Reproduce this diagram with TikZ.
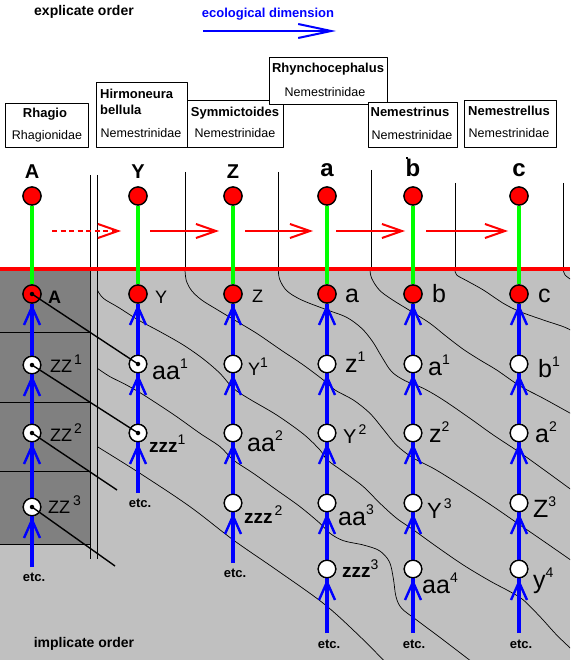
\documentclass[tikz,border=0pt]{standalone}
\usepackage{fontspec}
\setmainfont{Liberation Sans}
\usetikzlibrary{arrows.meta}
\definecolor{lgray}{HTML}{C0C0C0}
\definecolor{dgray}{HTML}{808080}
\definecolor{pred}{HTML}{FF0000}
\definecolor{pgreen}{HTML}{00FF00}
\definecolor{pblue}{HTML}{0000FF}
\newcommand\fsz[1]{\fontsize{#1}{#1}\selectfont}
\newcommand\up[1]{\raisebox{0.42em}{\mdseries\fsz{14}#1}}
\newcommand\barb[1]{\draw[barbst] ([shift={(-8pt,-31pt)}]#1.center) -- ([shift={(0pt,-13pt)}]#1.center) -- ([shift={(8pt,-31pt)}]#1.center);}
\begin{document}
\begin{tikzpicture}[x=1pt,y=-1pt,line join=round,
 redc/.style={circle,draw=black,line width=1.3pt,fill=pred,minimum size=18pt,inner sep=0pt},
 whc/.style={circle,draw=black,line width=1.3pt,fill=white,minimum size=17.5pt,inner sep=0pt},
 dotc/.style={circle,fill=black,minimum size=4.5pt,inner sep=0pt},
 gl/.style={pgreen,line width=3.3pt},
 bl/.style={pblue,line width=3.3pt},
 barbst/.style={pblue,line width=2.4pt},
 cont/.style={black,line width=0.7pt},
 conn/.style={black,line width=1.4pt},
 vl/.style={black,line width=0.8pt},
 rarr/.style={pred,line width=2pt,-{Straight Barb[length=20pt,width=14pt]}},
 toplab/.style={font=\bfseries\fsz{20},inner sep=0pt,anchor=base},
 toplow/.style={font=\bfseries\fsz{24},inner sep=0pt,anchor=base},
 cl/.style={font=\fsz{18},inner sep=0pt,anchor=base west},
 ll/.style={font=\fsz{25},inner sep=0pt,anchor=base west},
 zl/.style={font=\bfseries\fsz{19},inner sep=0pt,anchor=base west},
 etcl/.style={font=\bfseries\fsz{13},inner sep=0pt,anchor=base},
 box/.style={draw=black,line width=0.8pt,fill=white,inner sep=0pt},
 nm/.style={font=\bfseries\fsz{13},inner sep=0pt,anchor=base},
 fam/.style={font=\fsz{12.5},inner sep=0pt,anchor=base},
 ttl/.style={font=\bfseries\fsz{14},inner sep=0pt,anchor=base}
]
\useasboundingbox (0,0) rectangle (570,660);
\fill[white] (0,0) rectangle (570,660);
% background regions
\fill[lgray] (0,269) rectangle (570,660);
\fill[dgray] (0,269) rectangle (90,544);
\foreach \yy in {332,402,471,544} \draw[vl] (0,\yy) -- (90,\yy);
% contour lines of the implicate order
\begin{scope}
\clip (0,269) rectangle (570,660);
\begin{scope}[shift={(90,260)},x=0.33333pt,y=-0.33333pt]
\draw[cont] plot[smooth,tension=0.55] coordinates {(285,30) (289,62) (305,92) (335,120) (380,148) (430,178) (500,220) (570,268) (640,315) (700,360) (735,390) (790,420) (840,460) (880,508) (920,556) (968,593) (1030,625) (1100,668) (1200,733) (1290,795) (1360,843) (1445,902)};
\draw[cont] plot[smooth,tension=0.55] coordinates {(565,30) (569,58) (590,92) (635,120) (712,150) (770,172) (815,205) (848,245) (875,290) (905,335) (945,362) (1000,385) (1060,420) (1140,475) (1210,525) (1290,578) (1360,628) (1445,690)};
\draw[cont] plot[smooth,tension=0.55] coordinates {(840,30) (845,55) (868,90) (905,118) (965,155) (1020,190) (1070,230) (1120,268) (1170,300) (1220,330) (1290,378) (1360,415) (1445,462)};
\draw[cont] plot[smooth,tension=0.55] coordinates {(1095,30) (1100,45) (1130,62) (1180,90) (1240,130) (1290,155) (1360,180) (1420,200) (1445,212)};
\draw[cont] plot[smooth,tension=0.55] coordinates {(1420,30) (1425,45) (1445,60)};
\draw[cont] plot[smooth,tension=0.55] coordinates {(22,90) (40,115) (85,142) (145,180) (210,215) (280,255) (340,297) (390,340) (430,385) (480,418) (560,465) (640,522) (690,570) (712,600) (760,635) (820,680) (870,730) (920,775) (968,808) (1040,860) (1120,915) (1200,963) (1260,995) (1300,1020) (1350,1070) (1400,1125) (1445,1168)};
\draw[cont] plot[smooth,tension=0.55] coordinates {(22,325) (60,350) (100,370) (145,395) (200,430) (260,470) (330,520) (390,560) (430,600) (490,640) (560,690) (630,740) (690,790) (720,820) (760,842) (820,855) (868,872) (898,905) (910,955) (918,1010) (935,1045) (980,1080) (1060,1140) (1145,1205)};
\draw[cont] plot[smooth,tension=0.55] coordinates {(22,560) (150,640) (300,740) (430,840) (560,930) (700,1030) (800,1120) (885,1205)};
\end{scope}
\end{scope}
% vertical separators
\draw[vl] (90,175) -- (90,559);
\draw[vl] (97,175) -- (97,559);
\foreach \xx/\yt in {185/172,278/172,371/170,455.5/183,563/183} \draw[vl] (\xx,\yt) -- (\xx,269);
\fill (406,157) rectangle (408,159);
% red boundary line
\draw[pred,line width=3.3pt] (0,269) -- (570,269);
% titles
\node[ttl] (expl) at (84,16) {explicate order};
\node[ttl,font=\bfseries\fsz{13},text=pblue] (eco) at (268,18) {ecological dimension};
\coordinate (ecoS) at (203,31);
\coordinate (ecoE) at (336,31);
\draw[pblue,line width=2pt,-{Straight Barb[length=33pt,width=14pt]}] (ecoS) -- (ecoE);
\node[ttl] (impl) at (84,647) {implicate order};
% taxon boxes
\node[box,minimum width=83pt,minimum height=44pt] (bRh) at (46.5,125) {};
\node[nm] (nRh) at (45,118) {Rhagio};
\node[fam] (fRh) at (47,140) {Rhagionidae};
\node[box,minimum width=91pt,minimum height=65pt] (bHi) at (141.5,114.5) {};
\node[nm,anchor=base west] (nHi) at (100,99) {Hirmoneura};
\node[nm,anchor=base west] (nHi2) at (100,115) {bellula};
\node[fam] (fHi) at (141,138) {Nemestrinidae};
\node[box,minimum width=96pt,minimum height=47pt] (bSy) at (235,123.5) {};
\node[nm] (nSy) at (235,117) {Symmictoides};
\node[fam] (fSy) at (235,138) {Nemestrinidae};
\node[box,minimum width=118pt,minimum height=47pt] (bRy) at (328,80.5) {};
\node[nm] (nRy) at (328,73) {Rhynchocephalus};
\node[fam] (fRy) at (325,97) {Nemestrinidae};
\node[box,minimum width=89pt,minimum height=45pt] (bNs) at (412.5,124.5) {};
\node[nm] (nNs) at (410,117) {Nemestrinus};
\node[fam] (fNs) at (412,140) {Nemestrinidae};
\node[box,minimum width=92pt,minimum height=47pt] (bNl) at (510,123.5) {};
\node[nm] (nNl) at (509,116) {Nemestrellus};
\node[fam] (fNl) at (509,138) {Nemestrinidae};
% red arrows along the ecological dimension
\coordinate (r0s) at (52,231); \coordinate (r0e) at (121,231);
\coordinate (r1s) at (150,231); \coordinate (r1e) at (219,231);
\coordinate (r2s) at (245,231); \coordinate (r2e) at (313,231);
\coordinate (r3s) at (336,231); \coordinate (r3e) at (405,231);
\coordinate (r4s) at (426,231); \coordinate (r4e) at (508,231);
\draw[rarr,dash pattern=on 5pt off 3.5pt] (r0s) -- (r0e);
\draw[rarr] (r1s) -- (r1e);
\draw[rarr] (r2s) -- (r2e);
\draw[rarr] (r3s) -- (r3e);
\draw[rarr] (r4s) -- (r4e);
% node positions
\coordinate (tAp) at (32,196);
\node[redc] (tA) at (32,196) {};
\node[redc] (tY) at (138,196) {};
\node[redc] (tZ) at (233,196) {};
\node[redc] (ta) at (327,196) {};
\node[redc] (tb) at (413,196) {};
\node[redc] (tc) at (519,196) {};
\node[redc] (A0) at (32,294) {};
\node[whc] (A1) at (32,365) {};
\node[whc] (A2) at (32,433) {};
\node[whc] (A3) at (32,507) {};
\node[redc] (Y0) at (138,294) {};
\node[whc] (Y1) at (138,364) {};
\node[whc] (Y2) at (138,433) {};
\node[redc] (Z0) at (233,294) {};
\node[whc] (Z1) at (233,364) {};
\node[whc] (Z2) at (233,433) {};
\node[whc] (Z3) at (233,503) {};
\foreach \c/\xx in {a/327,b/413,c/519}{
  \node[redc] (\c0) at (\xx,294) {};
  \node[whc] (\c1) at (\xx,364) {};
  \node[whc] (\c2) at (\xx,433) {};
  \node[whc] (\c3) at (\xx,503) {};
  \node[whc] (\c4) at (\xx,569) {};
}
\coordinate (Ae) at (32,567);
\coordinate (Ye) at (138,493);
\coordinate (Ze) at (233,563);
\coordinate (ae) at (327,633);
\coordinate (be) at (413,633);
\coordinate (ce) at (519,633);
% green links
\draw[gl] (tA) -- (A0);
\draw[gl] (tY) -- (Y0);
\draw[gl] (tZ) -- (Z0);
\draw[gl] (ta) -- (a0);
\draw[gl] (tb) -- (b0);
\draw[gl] (tc) -- (c0);
% blue lines
\draw[bl] (Ae) -- (A3) -- (A2) -- (A1) -- (A0);
\draw[bl] (Ye) -- (Y2) -- (Y1) -- (Y0);
\draw[bl] (Ze) -- (Z3) -- (Z2) -- (Z1) -- (Z0);
\draw[bl] (ae) -- (a4) -- (a3) -- (a2) -- (a1) -- (a0);
\draw[bl] (be) -- (b4) -- (b3) -- (b2) -- (b1) -- (b0);
\draw[bl] (ce) -- (c4) -- (c3) -- (c2) -- (c1) -- (c0);
\foreach \n in {A0,A1,A2,A3,Y0,Y1,Y2,Z0,Z1,Z2,Z3,a0,a1,a2,a3,a4,b0,b1,b2,b3,b4,c0,c1,c2,c3,c4} {\barb{\n}}
% redraw circles on top
\foreach \n in {tA,tY,tZ,ta,tb,tc,A0,Y0,Z0,a0,b0,c0} \node[redc] at (\n) {};
\foreach \n in {A1,A2,A3,Y1,Y2,Z1,Z2,Z3,a1,a2,a3,a4,b1,b2,b3,b4,c1,c2,c3,c4} \node[whc] at (\n) {};
% black connectors from the explicate column
\coordinate (k2) at (117,490);
\coordinate (k3) at (115,566);
\draw[conn] (A0.center) -- (Y1.center);
\draw[conn] (A1.center) -- (Y2.center);
\draw[conn] (A2.center) -- (k2);
\draw[conn] (A3.center) -- (k3);
\foreach \n in {A0,A1,A2,A3,Y1,Y2} \node[dotc] at (\n) {};
% top labels
\node[toplab] (LA) at (32,179) {A};
\node[toplab] (LY) at (138,179) {Y};
\node[toplab] (LZ) at (233,179) {Z};
\node[toplow] (La) at (327,177) {a};
\node[toplow] (Lb) at (413,177) {b};
\node[toplow] (Lc) at (519,177) {c};
% lower labels
\node[cl,font=\bfseries\fsz{18}] (lA0) at (48,303) {A};
\node[cl] (lA1) at (50,372) {ZZ\hspace{2pt}\up{1}};
\node[cl] (lA2) at (50,441) {ZZ\hspace{2pt}\up{2}};
\node[cl] (lA3) at (48,513) {ZZ\hspace{3pt}\up{3}};
\node[cl] (lY0) at (155,303) {Y};
\node[ll] (lY1) at (152,379) {aa\up{1}};
\node[zl] (lY2) at (149,452) {zzz\up{1}};
\node[cl] (lZ0) at (252,302) {Z};
\node[cl] (lZ1) at (248,375) {Y\up{1}};
\node[ll] (lZ2) at (247,451) {aa\up{2}};
\node[zl] (lZ3) at (244,523) {zzz\hspace{2pt}\up{2}};
\node[ll] (la0) at (345,302) {a};
\node[ll] (la1) at (345,372) {z\up{1}};
\node[cl,font=\fsz{20}] (la2) at (343,443) {Y\hspace{2pt}\up{2}};
\node[ll] (la3) at (338,525) {aa\up{3}};
\node[zl] (la4) at (342,577) {zzz\up{3}};
\node[ll] (lb0) at (432,302) {b};
\node[ll] (lb1) at (428,375) {a\up{1}};
\node[ll] (lb2) at (429,442) {z\up{2}};
\node[cl,font=\fsz{22}] (lb3) at (427,518) {Y\hspace{2pt}\up{3}};
\node[ll] (lb4) at (422,593) {aa\up{4}};
\node[ll] (lc0) at (538,302) {c};
\node[ll] (lc1) at (538,377) {b\up{1}};
\node[ll] (lc2) at (535,442) {a\up{2}};
\node[ll] (lc3) at (533,517) {Z\up{3}};
\node[ll] (lc4) at (533,588) {y\up{4}};
% etc.
\node[etcl] (eA) at (34,581) {etc.};
\node[etcl] (eY) at (140,507) {etc.};
\node[etcl] (eZ) at (235,577) {etc.};
\node[etcl] (ea) at (329,648) {etc.};
\node[etcl] (eb) at (414,648) {etc.};
\node[etcl] (ec) at (521,648) {etc.};
\end{tikzpicture}
\end{document}
